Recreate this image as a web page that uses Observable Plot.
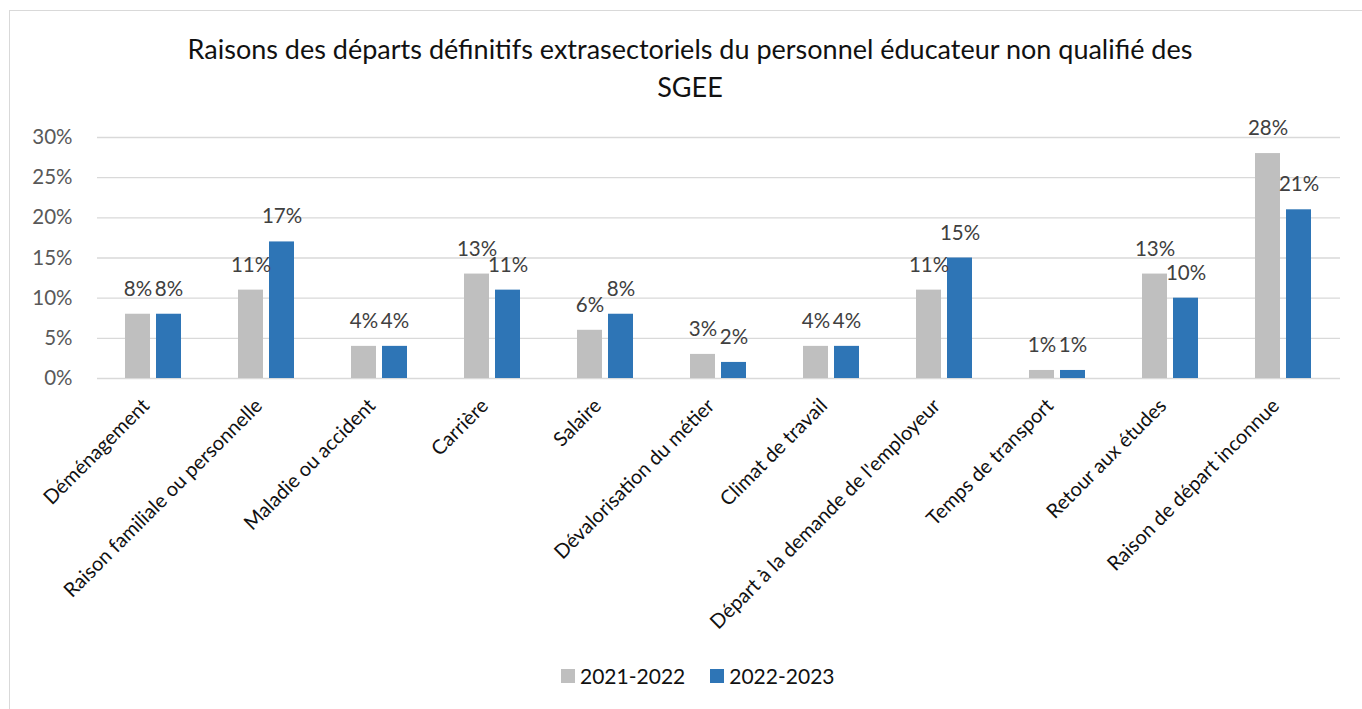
<!DOCTYPE html>
<html>
<head>
<meta charset="utf-8">
<script src="https://cdn.jsdelivr.net/npm/d3@7"></script>
<script src="https://cdn.jsdelivr.net/npm/@observablehq/plot@0.6"></script>
<style>
  html, body { margin: 0; padding: 0; background: #fff; overflow: hidden; }
  body { width: 1362px; height: 709px; position: relative; font-family: Lato, "Open Sans", sans-serif; }
  #frame { position: absolute; left: 9px; top: 10px; width: 1400px; height: 730px; border: 1.5px solid #d9d9d9; box-sizing: border-box; }
  #title { position: absolute; left: 0; width: 1380px; top: 30px; text-align: center; font-size: 27px; line-height: 38px; color: #111; }
  #chart { position: absolute; left: 0; top: 100px; }
  #legend { position: absolute; left: 561px; top: 663px; display: flex; align-items: center; font-size: 21px; color: #111; }
  .item { display: flex; align-items: center; margin-right: 25px; }
  .sw { width: 14px; height: 14px; margin-right: 5px; display: inline-block; }
</style>
</head>
<body>
<div id="frame"></div>
<div id="title">Raisons des départs définitifs extrasectoriels du personnel éducateur non qualifié des<br>SGEE</div>
<div id="chart"></div>
<div id="legend"></div>
<script>
const categories = [
  "Déménagement",
  "Raison familiale ou personnelle",
  "Maladie ou accident",
  "Carrière",
  "Salaire",
  "Dévalorisation du métier",
  "Climat de travail",
  "Départ à la demande de l'employeur",
  "Temps de transport",
  "Retour aux études",
  "Raison de départ inconnue"
];
const seriesNames = ["2021-2022", "2022-2023"];
const values2122 = [8, 11, 4, 13, 6, 3, 4, 11, 1, 13, 28];
const values2223 = [8, 17, 4, 11, 8, 2, 4, 15, 1, 10, 21];
const yTicks = [0, 5, 10, 15, 20, 25, 30];
const colors = ["#bfbfbf", "#2e75b6"];

const data = categories.flatMap((c, i) => [
  {cat: c, series: seriesNames[0], value: values2122[i]},
  {cat: c, series: seriesNames[1], value: values2223[i]}
]);

const chart = Plot.plot({
  width: 1362,
  height: 538,
  marginLeft: 93,
  marginRight: 19,
  marginTop: 37,
  marginBottom: 260,
  style: {fontFamily: "Lato, 'Open Sans', sans-serif", background: "transparent"},
  fx: {domain: categories, padding: 0, label: null},
  x: {domain: seriesNames, paddingInner: 0.19, paddingOuter: 0.87, axis: null},
  y: {domain: [0, 30], label: null},
  color: {domain: seriesNames, range: colors},
  marks: [
    Plot.gridY(yTicks, {stroke: "#d9d9d9", strokeOpacity: 1, strokeWidth: 1.3}),
    Plot.axisY(yTicks, {tickSize: 0, tickPadding: 25, tickFormat: d => d + "%", fontSize: 20.5, fill: "#595959", label: null}),
    Plot.axisFx({anchor: "bottom", tickRotate: -45, tickSize: 0, tickPadding: 24, dx: -8, fontSize: 20, fill: "#111", label: null}),
    Plot.barY(data, {fx: "cat", x: "series", y: "value", fill: "series"}),
    Plot.text(data, {fx: "cat", x: "series", y: "value", text: d => d.value + "%", dy: -25, fontSize: 20.5, fill: "#404040"})
  ]
});
document.getElementById("chart").appendChild(chart);

const legend = document.getElementById("legend");
seriesNames.forEach((s, i) => {
  const item = document.createElement("div");
  item.className = "item";
  const sw = document.createElement("span");
  sw.className = "sw";
  sw.style.background = colors[i];
  const t = document.createElement("span");
  t.textContent = s;
  item.appendChild(sw);
  item.appendChild(t);
  legend.appendChild(item);
});
</script>
</body>
</html>
